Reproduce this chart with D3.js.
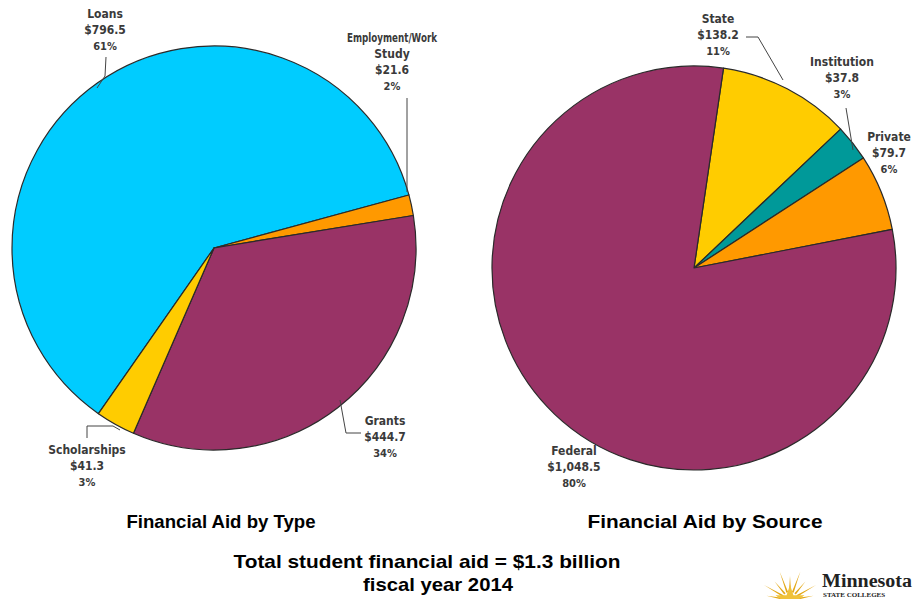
<!DOCTYPE html>
<html><head><meta charset="utf-8">
<script src="https://cdn.jsdelivr.net/npm/d3@7"></script>
<style>body{margin:0;background:#fff}svg{display:block}</style>
</head><body>
<svg id="c" width="916" height="599"></svg>
<script>
const typeCategories = ["Loans", "Employment/Work Study", "Grants", "Scholarships"];
const typeValues = [796.5, 21.6, 444.7, 41.3];
const typePercents = ["61%", "2%", "34%", "3%"];
const typeColors = ["#00CCFF", "#FF9900", "#993366", "#FFCC00"];

const sourceCategories = ["State", "Institution", "Private", "Federal"];
const sourceValues = [138.2, 37.8, 79.7, 1048.5];
const sourcePercents = ["11%", "3%", "6%", "80%"];
const sourceColors = ["#FFCC00", "#009999", "#FF9900", "#993366"];

const svg = d3.select("#c");
const deg = Math.PI / 180;
const fmt = v => "$" + d3.format(",.1f")(v);

function drawPie(cx, cy, r, values, colors, startDeg) {
  const pie = d3.pie().sort(null).startAngle(startDeg * deg).endAngle(startDeg * deg + 2 * Math.PI);
  const arc = d3.arc().innerRadius(0).outerRadius(r);
  const g = svg.append("g").attr("transform", `translate(${cx},${cy})`);
  g.selectAll("path").data(pie(values)).join("path")
    .attr("d", arc).attr("fill", (d, i) => colors[i])
    .attr("stroke", "#2a2a2a").attr("stroke-width", 1.2).attr("stroke-linejoin", "round");
}

drawPie(214, 248, 202, typeValues, typeColors, -145.1);
drawPie(694, 268, 202, sourceValues, sourceColors, 8.4);

function label(x, y, lines, anchor, firstLen) {
  const t = svg.append("text").attr("x", x).attr("y", y)
    .attr("text-anchor", anchor || "middle")
    .attr("font-family", "DejaVu Sans Condensed, Liberation Sans, Arial, sans-serif")
    .attr("font-weight", "bold").attr("fill", "#3a3a3a");
  lines.forEach((s, i) => {
    const sp = t.append("tspan").attr("x", x).attr("dy", i ? 16 : 0)
      .attr("font-size", s.endsWith("%") ? 11 : 12).text(s);
    if (i === 0 && firstLen) sp.attr("textLength", firstLen).attr("lengthAdjust", "spacingAndGlyphs");
  });
}
function leader(pts) {
  svg.append("path").attr("d", d3.line()(pts)).attr("fill", "none")
    .attr("stroke", "#444").attr("stroke-width", 1);
}

// Left pie labels
label(105, 18, [typeCategories[0], fmt(typeValues[0]), typePercents[0]]);
leader([[106, 57], [105, 76], [97, 88]]);
label(392, 42, ["Employment/Work", "Study", fmt(typeValues[1]), typePercents[1]], "middle", 90);
leader([[407, 98], [407, 192]]);
label(385, 425, [typeCategories[2], fmt(typeValues[2]), typePercents[2]]);
leader([[340, 400], [346, 433], [361, 433]]);
label(87, 454, [typeCategories[3], fmt(typeValues[3]), typePercents[3]]);
leader([[87, 438], [87, 426], [113, 426], [120, 430]]);

// Right pie labels
label(718, 23, [sourceCategories[0], fmt(sourceValues[0]), sourcePercents[0]]);
leader([[746, 37], [758, 37], [783, 80]]);
label(842, 66, [sourceCategories[1], fmt(sourceValues[1]), sourcePercents[1]]);
leader([[846, 108], [853, 150]]);
label(889, 141, [sourceCategories[2], fmt(sourceValues[2]), sourcePercents[2]]);
label(574, 455, [sourceCategories[3], fmt(sourceValues[3]), sourcePercents[3]]);

// Titles
const titleFont = "Liberation Sans, Arial, sans-serif";
function title(x, y, s, len) {
  svg.append("text").attr("x", x).attr("y", y).attr("text-anchor", "middle")
    .attr("font-family", titleFont).attr("font-weight", "bold").attr("font-size", 19)
    .attr("textLength", len).attr("lengthAdjust", "spacingAndGlyphs")
    .attr("fill", "#000").text(s);
}
title(221, 528, "Financial Aid by Type", 189);
title(705, 528, "Financial Aid by Source", 235);
title(427, 568, "Total student financial aid = $1.3 billion", 387);
title(438, 591, "fiscal year 2014", 150);

// Logo
const logo = svg.append("g").attr("transform", "translate(790,600)");
d3.range(-80, 81, 20).forEach((a, k) => {
  const r1 = 8, r2 = k % 2 ? 30 : 24;
  const ra = (a - 90) * deg;
  logo.append("path")
    .attr("d", d3.line()([[Math.cos(ra - 0.12) * r1, Math.sin(ra - 0.12) * r1], [Math.cos(ra) * r2, Math.sin(ra) * r2], [Math.cos(ra + 0.12) * r1, Math.sin(ra + 0.12) * r1]]))
    .attr("fill", "#E3A817");
});
logo.append("path").attr("d", d3.symbol().type(d3.symbolStar).size(260)()).attr("fill", "#F0C23A");
svg.append("text").attr("x", 822).attr("y", 587).attr("font-family", "Liberation Serif, Times New Roman, serif")
  .attr("font-weight", "bold").attr("font-size", 18).attr("textLength", 90).attr("lengthAdjust", "spacingAndGlyphs")
  .attr("fill", "#222").text("Minnesota");
svg.append("text").attr("x", 823).attr("y", 597).attr("font-family", "Liberation Serif, Times New Roman, serif")
  .attr("font-weight", "bold").attr("font-size", 7).attr("fill", "#222").text("STATE COLLEGES");
</script>
</body></html>
